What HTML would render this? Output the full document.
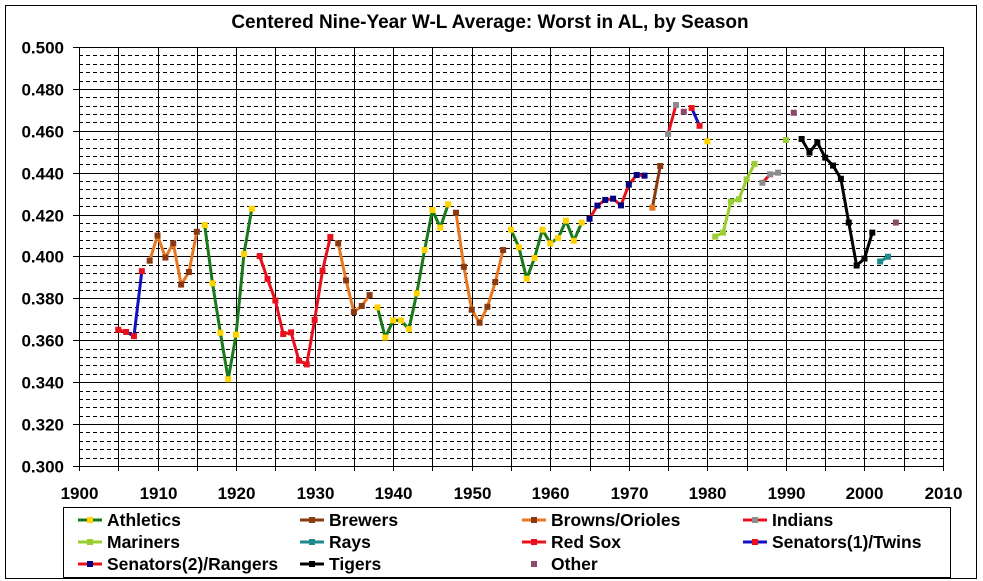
<!DOCTYPE html>
<html><head><meta charset="utf-8"><style>
body{margin:0;background:#fff;}
svg{display:block;font-family:"Liberation Sans",Arial,sans-serif;font-weight:bold;}
</style></head><body>
<svg id="s" width="983" height="581" xmlns="http://www.w3.org/2000/svg">
<rect x="0" y="0" width="983" height="581" fill="#fff"/>
<rect x="5.5" y="5.5" width="971" height="573" fill="none" stroke="#000" stroke-width="1"/>
<text x="490" y="28" font-size="19" text-anchor="middle">Centered Nine-Year W-L Average: Worst in AL, by Season</text>
<g id="grid"></g>
<g id="data"></g>
<rect x="63.5" y="507.5" width="887" height="70" fill="#fff" stroke="#000"/>
<g id="leg" font-size="17.5"></g>
</svg>
<script>
var NS="http://www.w3.org/2000/svg";
function el(p,t,a){var e=document.createElementNS(NS,t);for(var k in a)e.setAttribute(k,a[k]);p.appendChild(e);return e;}
var X0=79,X1=943,Y0=47,Y1=466;
function X(yr){return X0+(yr-1900)*(X1-X0)/110;}
function Y(v){return Y0+(0.5-v)*(Y1-Y0)/0.2;}
var g=document.getElementById('grid');
for(var i=0;i<=50;i++){var v=0.3+i*0.004;var y=Math.round(Y(v))+0.5;
 if(i%5==0){el(g,'line',{x1:73,x2:X1,y1:y,y2:y,stroke:'#000','stroke-width':1});
  var t=el(g,'text',{x:64,y:y+6,'font-size':17,'text-anchor':'end'});t.textContent=v.toFixed(3);}
 else el(g,'line',{x1:X0,x2:X1,y1:y,y2:y,stroke:'#000','stroke-width':1,'stroke-dasharray':'4,3'});}
for(var yr=1900;yr<=2010;yr+=5){var x=Math.round(X(yr))+0.5;
 el(g,'line',{x1:x,x2:x,y1:Y0,y2:471,stroke:'#000','stroke-width':1});
 if(yr%10==0){var t=el(g,'text',{x:x,y:499,'font-size':17,'text-anchor':'middle'});t.textContent=yr;}}
var GR='#1a7a1a',YE='#ffd200',BR='#8b3a0f',OR='#e87722',GY='#8c8c8c',LI='#9acd32',TE='#1e8a8a',RD='#e8101a',NV='#000080',BL='#1010c0',BK='#000',PU='#8b4a6b';
var d=[
[1905,.365,RD,RD],[1906,.364,RD,BL],[1907,.362,RD,BL],[1908,.393,RD,null],
[1909,.398,BR,OR],[1910,.410,BR,OR],[1911,.3995,BR,OR],[1912,.4063,BR,OR],[1913,.3866,BR,OR],[1914,.3926,BR,OR],[1915,.4118,BR,null],
[1916,.415,YE,GR],[1917,.3872,YE,GR],[1918,.3636,YE,GR],[1919,.3414,YE,GR],[1920,.3627,YE,GR],[1921,.4012,YE,GR],[1922,.4228,YE,null],
[1923,.4002,RD,RD],[1924,.3893,RD,RD],[1925,.379,RD,RD],[1926,.363,RD,RD],[1927,.3638,RD,RD],[1928,.3503,RD,RD],[1929,.3485,RD,RD],[1930,.3697,RD,RD],[1931,.3932,RD,RD],[1932,.4093,RD,null],
[1933,.4063,BR,OR],[1934,.3886,BR,OR],[1935,.3735,BR,OR],[1936,.3764,BR,OR],[1937,.3816,BR,null],
[1938,.3757,YE,GR],[1939,.3613,YE,GR],[1940,.3695,YE,GR],[1941,.3695,YE,GR],[1942,.3653,YE,GR],[1943,.3824,YE,GR],[1944,.4031,YE,GR],[1945,.4222,YE,GR],[1946,.4138,YE,GR],[1947,.4249,YE,null],
[1948,.4209,BR,OR],[1949,.3951,BR,OR],[1950,.3746,BR,OR],[1951,.3684,BR,OR],[1952,.376,BR,OR],[1953,.3878,BR,OR],[1954,.4031,BR,null],
[1955,.4128,YE,GR],[1956,.4044,YE,GR],[1957,.3894,YE,GR],[1958,.3993,YE,GR],[1959,.4128,YE,GR],[1960,.4063,YE,GR],[1961,.4088,YE,GR],[1962,.4171,YE,GR],[1963,.4075,YE,GR],[1964,.4162,YE,null],
[1965,.418,NV,RD],[1966,.4243,NV,RD],[1967,.427,NV,RD],[1968,.4276,NV,RD],[1969,.4244,NV,RD],[1970,.4343,NV,RD],[1971,.4389,NV,RD],[1972,.4386,NV,null],
[1973,.4233,OR,BR],[1974,.4432,BR,null],
[1975,.4585,GY,RD],[1976,.4723,GY,null],[1977,.4691,PU,null],[1978,.4709,RD,BL],[1979,.4624,RD,null],[1980,.455,YE,null],
[1981,.4095,LI,LI],[1982,.4114,LI,LI],[1983,.4262,LI,LI],[1984,.4273,LI,LI],[1985,.4368,LI,LI],[1986,.4442,LI,null],
[1987,.4352,GY,RD],[1988,.4392,GY,GY],[1989,.440,GY,null],[1990,.4556,LI,null],[1991,.4686,PU,null],
[1992,.4561,BK,BK],[1993,.4496,BK,BK],[1994,.4545,BK,BK],[1995,.4472,BK,BK],[1996,.4434,BK,BK],[1997,.4371,BK,BK],[1998,.4162,BK,BK],[1999,.3957,BK,BK],[2000,.399,BK,BK],[2001,.4114,BK,null],
[2002,.3976,TE,TE],[2003,.3999,TE,null],[2004,.4162,PU,null]];
var D=document.getElementById('data');
for(var i=0;i<d.length-1;i++){if(d[i][3])el(D,'line',{x1:X(d[i][0]),y1:Y(d[i][1]),x2:X(d[i+1][0]),y2:Y(d[i+1][1]),stroke:d[i][3],'stroke-width':3});}
d.forEach(function(p){el(D,'rect',{x:X(p[0])-3,y:Y(p[1])-3,width:6,height:6,fill:p[2]});});
var L=document.getElementById('leg');
var items=[['Athletics',GR,YE,78,520],['Brewers',BR,BR,300,520],['Browns/Orioles',OR,BR,522,520],['Indians',RD,GY,743,520],
['Mariners',LI,LI,78,542],['Rays',TE,TE,300,542],['Red Sox',RD,RD,522,542],['Senators(1)/Twins',BL,RD,743,542],
['Senators(2)/Rangers',RD,NV,78,564],['Tigers',BK,BK,300,564],['Other',null,PU,522,564]];
items.forEach(function(it){var x=it[3],y=it[4];
 if(it[1])el(L,'line',{x1:x,x2:x+24,y1:y,y2:y,stroke:it[1],'stroke-width':3});
 el(L,'rect',{x:x+9,y:y-3,width:6,height:6,fill:it[2]});
 var t=el(L,'text',{x:x+29,y:y+6});t.textContent=it[0];});
</script>
</body></html>
